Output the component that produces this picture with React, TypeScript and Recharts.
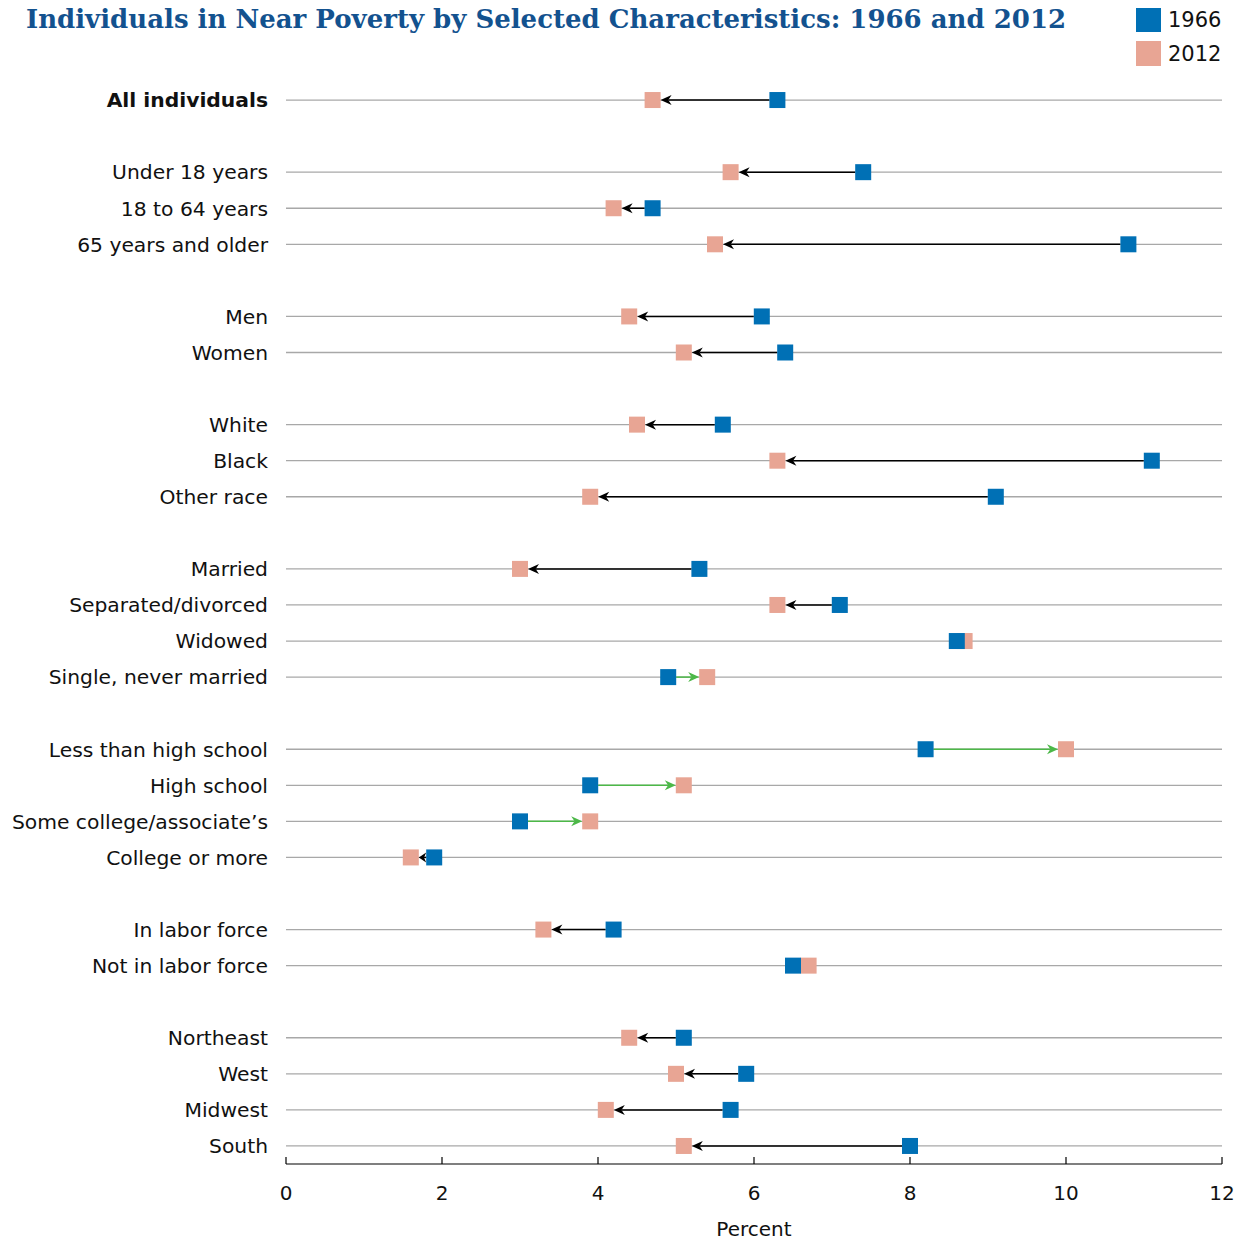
import React from 'react';
import { ScatterChart, Scatter, XAxis, YAxis, ReferenceLine } from 'recharts';

// rows, top to bottom; empty slots between groups
const categories = [
  'All individuals',
  'Under 18 years', '18 to 64 years', '65 years and older',
  'Men', 'Women',
  'White', 'Black', 'Other race',
  'Married', 'Separated/divorced', 'Widowed', 'Single, never married',
  'Less than high school', 'High school', 'Some college/associate\u2019s', 'College or more',
  'In labor force', 'Not in labor force',
  'Northeast', 'West', 'Midwest', 'South',
];
const rowPos = [0, 2, 3, 4, 6, 7, 9, 10, 11, 13, 14, 15, 16, 18, 19, 20, 21, 23, 24, 26, 27, 28, 29];
const values1966 = [6.3, 7.4, 4.7, 10.8, 6.1, 6.4, 5.6, 11.1, 9.1, 5.3, 7.1, 8.6, 4.9, 8.2, 3.9, 3.0, 1.9, 4.2, 6.5, 5.1, 5.9, 5.7, 8.0];
const values2012 = [4.7, 5.7, 4.2, 5.5, 4.4, 5.1, 4.5, 6.3, 3.9, 3.0, 6.3, 8.7, 5.4, 10.0, 5.1, 3.9, 1.6, 3.3, 6.7, 4.4, 5.0, 4.1, 5.1];
const xTicks = [0, 2, 4, 6, 8, 10, 12];
const years = ['1966', '2012'];

const BLUE = '#0070b5';
const PINK = '#e8a594';
const GREEN = '#4cb848';
const FONT = '"DejaVu Sans", Verdana, sans-serif';

const data1966 = categories.map((c, i) => ({ name: c, x: values1966[i], y: rowPos[i] }));
const data2012 = categories.map((c, i) => ({ name: c, x: values2012[i], y: rowPos[i] }));

const square = (color: string) => (p: any) => (
  <rect x={p.cx - 8} y={p.cy - 8} width={16} height={16} fill={color} />
);

const arrowShape = (color: string) => (p: any) => {
  const { x1, y1, x2 } = p;
  const dir = x2 > x1 ? 1 : -1;
  const gap = Math.abs(x2 - x1) - 16;
  if (gap <= 2) return <g />;
  const tip = x2 - dir * 8;
  const start = x1 + dir * 8;
  const head = Math.min(11, gap);
  const back = tip - dir * head;
  const notch = tip - dir * head * 0.7;
  return (
    <g>
      <line x1={start} y1={y1} x2={notch} y2={y1} stroke={color} strokeWidth={1.5} />
      <polygon
        points={`${tip},${y1} ${back},${y1 - 5} ${notch},${y1} ${back},${y1 + 5}`}
        fill={color}
      />
    </g>
  );
};

const YTick = (p: any) => {
  const idx = rowPos.indexOf(p.payload.value);
  if (idx < 0) return null;
  return (
    <text
      x={p.x - 18}
      y={p.y}
      dy="0.36em"
      textAnchor="end"
      fontFamily={FONT}
      fontSize={20.3}
      fontWeight={idx === 0 ? 'bold' : 'normal'}
      fill="#111"
    >
      {categories[idx]}
    </text>
  );
};

const XTick = (p: any) => (
  <g>
    <line x1={p.x} x2={p.x} y1={p.y - 7} y2={p.y} stroke="#000" strokeWidth={1.2} />
    <text x={p.x} y={p.y + 36} textAnchor="middle" fontFamily={FONT} fontSize={20} fill="#111">
      {p.payload.value}
    </text>
  </g>
);

export default function App() {
  return (
    <div style={{ position: 'relative', width: 1239, height: 1232 }}>
      <div
        style={{
          position: 'absolute',
          left: 18,
          top: -2,
          fontFamily: '"DejaVu Serif", serif',
          fontWeight: 'bold',
          fontSize: 26,
          lineHeight: '26px',
          color: '#13528f',
          whiteSpace: 'nowrap',
          zIndex: 2,
        }}
      >
        Individuals in Near Poverty by Selected Characteristics: 1966 and 2012
      </div>
      <div
        style={{
          position: 'absolute',
          left: 1128,
          top: -1,
          fontFamily: FONT,
          fontSize: 21,
          color: '#111',
          zIndex: 2,
        }}
      >
        {years.map((y, i) => (
          <div key={y} style={{ display: 'flex', alignItems: 'center', height: 25, marginBottom: 9 }}>
            <div style={{ width: 25, height: 25, background: i === 0 ? BLUE : PINK, marginRight: 7 }} />
            <span>{y}</span>
          </div>
        ))}
      </div>
      <ScatterChart width={1239} height={1232} margin={{ top: 74, right: 25, left: 0, bottom: 0 }}>
        <XAxis
          type="number"
          dataKey="x"
          domain={[0, 12]}
          ticks={xTicks}
          interval={0}
          height={76}
          tickSize={0}
          tickMargin={0}
          tickLine={false}
          axisLine={{ stroke: '#000', strokeWidth: 1.2 }}
          tick={<XTick />}
          label={{
            value: 'Percent',
            position: 'insideBottom',
            offset: 4,
            style: { fontFamily: FONT, fontSize: 20, fill: '#111' },
          }}
        />
        <YAxis
          type="number"
          dataKey="y"
          domain={[-0.5, 29.5]}
          reversed
          ticks={rowPos}
          interval={0}
          width={278}
          tickSize={0}
          tickMargin={0}
          axisLine={false}
          tickLine={false}
          tick={<YTick />}
        />
        {rowPos.map((pos) => (
          <ReferenceLine key={`g${pos}`} y={pos} stroke="#a8a8a8" strokeWidth={1.3} />
        ))}
        {categories.map((c, i) => (
          <ReferenceLine
            key={c}
            segment={[
              { x: values1966[i], y: rowPos[i] },
              { x: values2012[i], y: rowPos[i] },
            ]}
            shape={arrowShape(values2012[i] > values1966[i] ? GREEN : '#000')}
          />
        ))}
        <Scatter name="2012" data={data2012} shape={square(PINK)} isAnimationActive={false} />
        <Scatter name="1966" data={data1966} shape={square(BLUE)} isAnimationActive={false} />
      </ScatterChart>
    </div>
  );
}
